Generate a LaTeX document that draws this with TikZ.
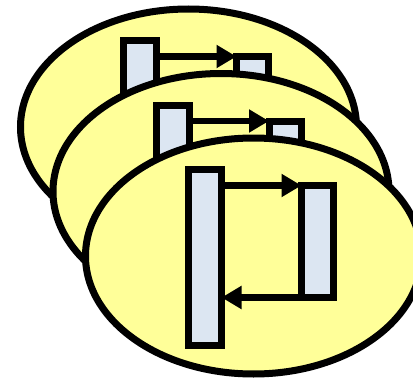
\documentclass[tikz,border=0pt]{standalone}
\usetikzlibrary{shapes.geometric,arrows.meta}
\definecolor{padyellow}{HTML}{FFFF99}
\definecolor{barblue}{HTML}{DCE6F2}
\begin{document}
\begin{tikzpicture}[x=1pt,y=-1pt,
  layerell/.style={ellipse,draw=black,line width=7pt,fill=padyellow,inner sep=0pt,outer sep=0pt,minimum width=336pt,minimum height=236pt},
  barbox/.style={rectangle,draw=black,line width=7pt,fill=barblue,inner sep=0pt,outer sep=0pt,minimum width=33pt},
  msgarrow/.style={line width=6.5pt,-{Triangle[length=20pt,width=22pt]}}]
\useasboundingbox (0,0) rectangle (413,380);
\clip (0,0) rectangle (413,380);
\foreach \i/\n in {0/a,1/b,2/c}{
  \begin{scope}[shift={(32.5*\i,64.5*\i)}]
    \node[layerell] (E\n) at (188.5,127) {};
    \node[barbox,minimum height=176pt] (L\n) at (140,128.5) {};
    \node[barbox,minimum width=32pt,minimum height=112pt] (R\n) at (252.5,112.5) {};
    \draw[msgarrow] (L\n.east |- R\n.north west) -- (R\n.north west);
    \draw[msgarrow] (R\n.south west) -- (L\n.east |- R\n.south west);
  \end{scope}
}
\end{tikzpicture}
\end{document}
